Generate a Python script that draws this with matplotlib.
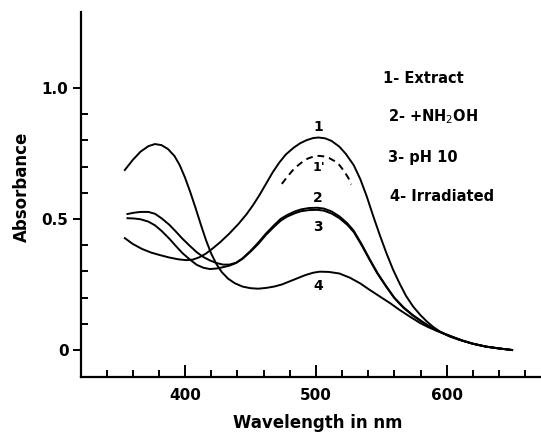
import numpy as np
import matplotlib
matplotlib.use("Agg")
import matplotlib.pyplot as plt

# absorbance spectra (wavelength in nm)
wl_extract = [354, 360, 367, 374, 381, 388, 395, 401, 406, 411, 416, 421, 427, 434, 441, 447,
              452, 457, 462, 467, 472, 477, 483, 488, 493, 498, 502, 507, 512, 518, 523, 529,
              534, 539, 544, 549, 554, 559, 564, 569, 574.5, 580, 585, 590, 595, 602, 610,
              620, 630, 640, 650]
abs_extract = [0.427, 0.405, 0.386, 0.372, 0.362, 0.353, 0.346, 0.343, 0.345, 0.354, 0.368,
               0.387, 0.412, 0.445, 0.482, 0.518, 0.553, 0.592, 0.635, 0.678, 0.715, 0.746,
               0.772, 0.789, 0.801, 0.809, 0.811, 0.808, 0.798, 0.776, 0.748, 0.705, 0.652,
               0.585, 0.509, 0.437, 0.369, 0.307, 0.254, 0.206, 0.165, 0.133, 0.108, 0.087,
               0.070, 0.052, 0.038, 0.024, 0.013, 0.006, 0.0]

wl_nh2oh = [356, 361, 366, 372, 377, 382, 388, 393, 398, 404, 409, 414, 419, 424, 429, 434,
            439, 444, 450, 456, 462, 468, 473, 478, 484, 489, 495, 501, 506, 512, 518, 524,
            529, 535, 541, 547, 554, 560, 567, 574, 580, 586, 592, 598, 604, 612, 620, 630,
            640, 650]
abs_nh2oh = [0.519, 0.524, 0.527, 0.527, 0.52, 0.503, 0.478, 0.452, 0.425, 0.396, 0.373,
             0.355, 0.342, 0.332, 0.326, 0.326, 0.333, 0.35, 0.378, 0.41, 0.445, 0.476, 0.5,
             0.515, 0.529, 0.537, 0.542, 0.543, 0.54, 0.529, 0.51, 0.484, 0.455, 0.404,
             0.348, 0.295, 0.242, 0.2, 0.163, 0.134, 0.113, 0.093, 0.076, 0.063, 0.051,
             0.036, 0.024, 0.013, 0.006, 0.0]

wl_ph10 = wl_nh2oh
abs_ph10 = [0.503, 0.502, 0.499, 0.49, 0.476, 0.455, 0.425, 0.397, 0.37, 0.344, 0.325,
            0.314, 0.309, 0.311, 0.316, 0.322, 0.332, 0.348, 0.375, 0.405, 0.44, 0.47,
            0.493, 0.509, 0.522, 0.53, 0.534, 0.535, 0.532, 0.521, 0.503, 0.478, 0.45, 0.4,
            0.345, 0.292, 0.24, 0.198, 0.161, 0.132, 0.111, 0.092, 0.075, 0.062, 0.05,
            0.036, 0.024, 0.013, 0.006, 0.0]

wl_irr = [354, 360, 366, 372, 377, 382, 387, 392, 396, 400, 404, 408, 412, 416, 420, 424,
          428, 433, 438, 444, 450, 456, 462, 468, 474, 480, 486, 492, 498, 503, 510, 518,
          526, 534, 541, 549, 557, 564, 572, 580, 586, 592, 598, 604, 612, 620, 630, 640,
          650]
abs_irr = [0.687, 0.725, 0.757, 0.778, 0.786, 0.782, 0.767, 0.74, 0.705, 0.658, 0.603, 0.543,
           0.48, 0.42, 0.368, 0.328, 0.298, 0.272, 0.255, 0.242, 0.236, 0.234, 0.237,
           0.242, 0.25, 0.262, 0.274, 0.286, 0.295, 0.299, 0.298, 0.292, 0.276, 0.254, 0.23,
           0.204, 0.178, 0.153, 0.127, 0.102, 0.087, 0.074, 0.062, 0.051, 0.036, 0.024,
           0.013, 0.006, 0.0]

wl_dash = [474, 478, 482, 486, 490, 494, 498, 502, 506, 510, 514, 518, 522, 525, 527]
abs_dash = [0.634, 0.66, 0.684, 0.703, 0.719, 0.731, 0.738, 0.741, 0.739, 0.733, 0.722,
            0.706, 0.68, 0.655, 0.632]

legend_lines = ["1- Extract", "2- +NH$_2$OH", "3- pH 10", "4- Irradiated"]

fig = plt.figure(figsize=(5.41, 4.33), dpi=100)
ax = fig.add_axes([81 / 541, 56 / 433, 460 / 541, 365 / 433])

lw = 1.4
ax.plot(wl_extract, abs_extract, color="black", lw=lw)
ax.plot(wl_nh2oh, abs_nh2oh, color="black", lw=lw)
ax.plot(wl_ph10, abs_ph10, color="black", lw=lw)
ax.plot(wl_irr, abs_irr, color="black", lw=lw)
ax.plot(wl_dash, abs_dash, color="black", lw=lw, dashes=(3.5, 2.5))

ax.set_xlim(320.5, 672.1)
ax.set_ylim(-0.103, 1.29)

ax.spines["top"].set_visible(False)
ax.spines["right"].set_visible(False)
for s in ["left", "bottom"]:
    ax.spines[s].set_linewidth(1.6)

ax.set_xticks([400, 500, 600])
ax.set_xticks([w for w in range(340, 680, 20) if w % 100 != 0], minor=True)
ax.set_yticks([0, 0.5, 1.0])
ax.set_yticklabels(["0", "0.5", "1.0"])
ax.set_yticks([0.1, 0.2, 0.3, 0.4, 0.6, 0.7, 0.8, 0.9], minor=True)

ax.tick_params(axis="x", which="major", direction="in", length=9, width=1.4, pad=8,
               labelsize=11)
ax.tick_params(axis="x", which="minor", direction="in", length=5, width=1.4)
ax.tick_params(axis="y", which="major", direction="out", length=6, width=1.4, pad=3,
               labelsize=11)
ax.tick_params(axis="y", which="minor", direction="in", length=5, width=1.4)
for lab in ax.get_xticklabels() + ax.get_yticklabels():
    lab.set_fontweight("bold")

fig.text(318 / 541, 1 - 423 / 433, "Wavelength in nm", ha="center", va="center",
         fontsize=12, fontweight="bold")
fig.text(22 / 541, 1 - 187 / 433, "Absorbance", ha="center", va="center",
         rotation=90, fontsize=12, fontweight="bold")

# curve numbers
ax.text(501.6, 0.851, "1", ha="center", va="center", fontsize=10, fontweight="bold")
ax.text(502.5, 0.695, "1'", ha="center", va="center", fontsize=9, fontweight="bold")
ax.text(501.6, 0.58, "2", ha="center", va="center", fontsize=10, fontweight="bold")
ax.text(501.6, 0.47, "3", ha="center", va="center", fontsize=10, fontweight="bold")
ax.text(501.6, 0.245, "4", ha="center", va="center", fontsize=10, fontweight="bold")

# legend text block
leg_x = [551.3, 555.1, 555.1, 556.7]
leg_y = [1.038, 0.889, 0.733, 0.584]
for t, x, y in zip(legend_lines, leg_x, leg_y):
    ax.text(x, y, t, ha="left", va="center", fontsize=10.5, fontweight="bold")

fig.savefig("out.png", dpi=100)
